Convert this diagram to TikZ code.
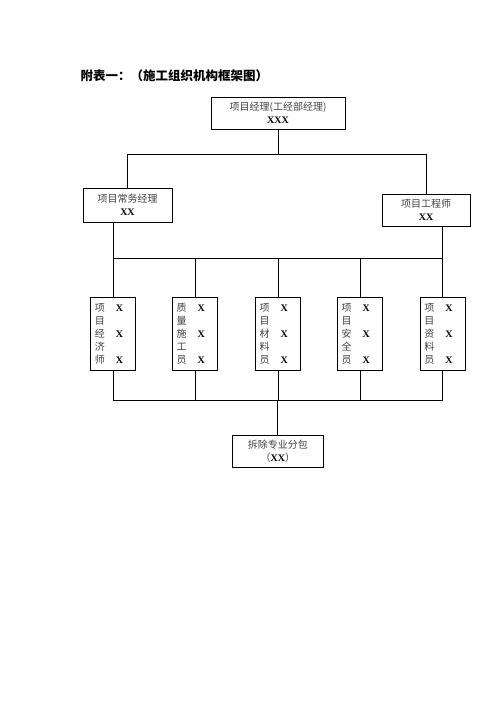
\documentclass[tikz,border=0pt]{standalone}
\usepackage{fontspec}
\setmainfont{Liberation Serif}
\newfontfamily\cjk{Noto Sans CJK SC}
\usetikzlibrary{positioning,calc}
\newcommand{\zh}[1]{{\cjk\color{black!75}#1}}
\newcommand{\xx}[1]{\textbf{#1}}
\newcommand{\staff}[5]{\zh{#1}\hspace{11pt}\xx{X}\\\zh{#2}\\\zh{#3}\hspace{11pt}\xx{X}\\\zh{#4}\\\zh{#5}\hspace{11pt}\xx{X}}

\begin{document}
\begin{tikzpicture}[
    x=1pt, y=-1pt,
    line width=0.8pt,
    every node/.style={font=\fontsize{10pt}{13pt}\selectfont},
    box/.style={rectangle, draw, align=center, inner sep=0pt},
    post/.style={box, minimum width=45pt, minimum height=73pt, text width=37pt, align=left}
]
    \useasboundingbox (0,0) rectangle (496,702);

    % Title
    \node[anchor=west, font=\fontsize{12.5pt}{15pt}\selectfont\cjk\bfseries] (title) at (77,75.5) {附表一：（施工组织机构框架图）};

    % Managers
    \node[box, minimum width=134pt, minimum height=32pt] (mgr) at (278,113) {\zh{项目经理(工经部经理)}\\\xx{XXX}};
    \node[box, minimum width=89pt, minimum height=34pt] (pm) at (127.5,205) {\zh{项目常务经理}\\\xx{XX}};
    \node[box, minimum width=88pt, minimum height=32pt] (eng) at (426,210) {\zh{项目工程师}\\\xx{XX}};

    % Staff
    \node[post] (s1) at (113.3,333.5) {\staff{项}{目}{经}{济}{师}};
    \node[post] (s2) at (195,333.5) {\staff{质}{量}{施}{工}{员}};
    \node[post] (s3) at (278.2,333.5) {\staff{项}{目}{材}{料}{员}};
    \node[post] (s4) at (360.2,333.5) {\staff{项}{目}{安}{全}{员}};
    \node[post] (s5) at (442.8,333.5) {\staff{项}{目}{资}{料}{员}};

    % Subcontractor
    \node[box, minimum width=91pt, minimum height=32pt] (sub) at (277.8,451) {\zh{拆除专业分包}\\\zh{（}\xx{XX}\zh{）}};

    % Edges
    \coordinate (top) at ($(mgr.south)+(0,25)$);
    \draw (mgr.south) -- (top);
    \draw (pm.north) |- (top) -| (eng.north);

    \coordinate (busA) at (277,258);
    \draw (pm.south -| s1.north) -- (s1.north);
    \draw (eng.south -| s5.north) -- (s5.north);
    \draw (s1.north |- busA) -- (s5.north |- busA);
    \foreach \i in {2,3,4} \draw (s\i.north) -- (s\i.north |- busA);

    \coordinate (busB) at (277,400.7);
    \foreach \i in {1,...,5} \draw (s\i.south) -- (s\i.south |- busB);
    \draw (s1.south |- busB) -- (s5.south |- busB);
    \draw (sub.north) -- (sub.north |- busB);
\end{tikzpicture}
\end{document}
